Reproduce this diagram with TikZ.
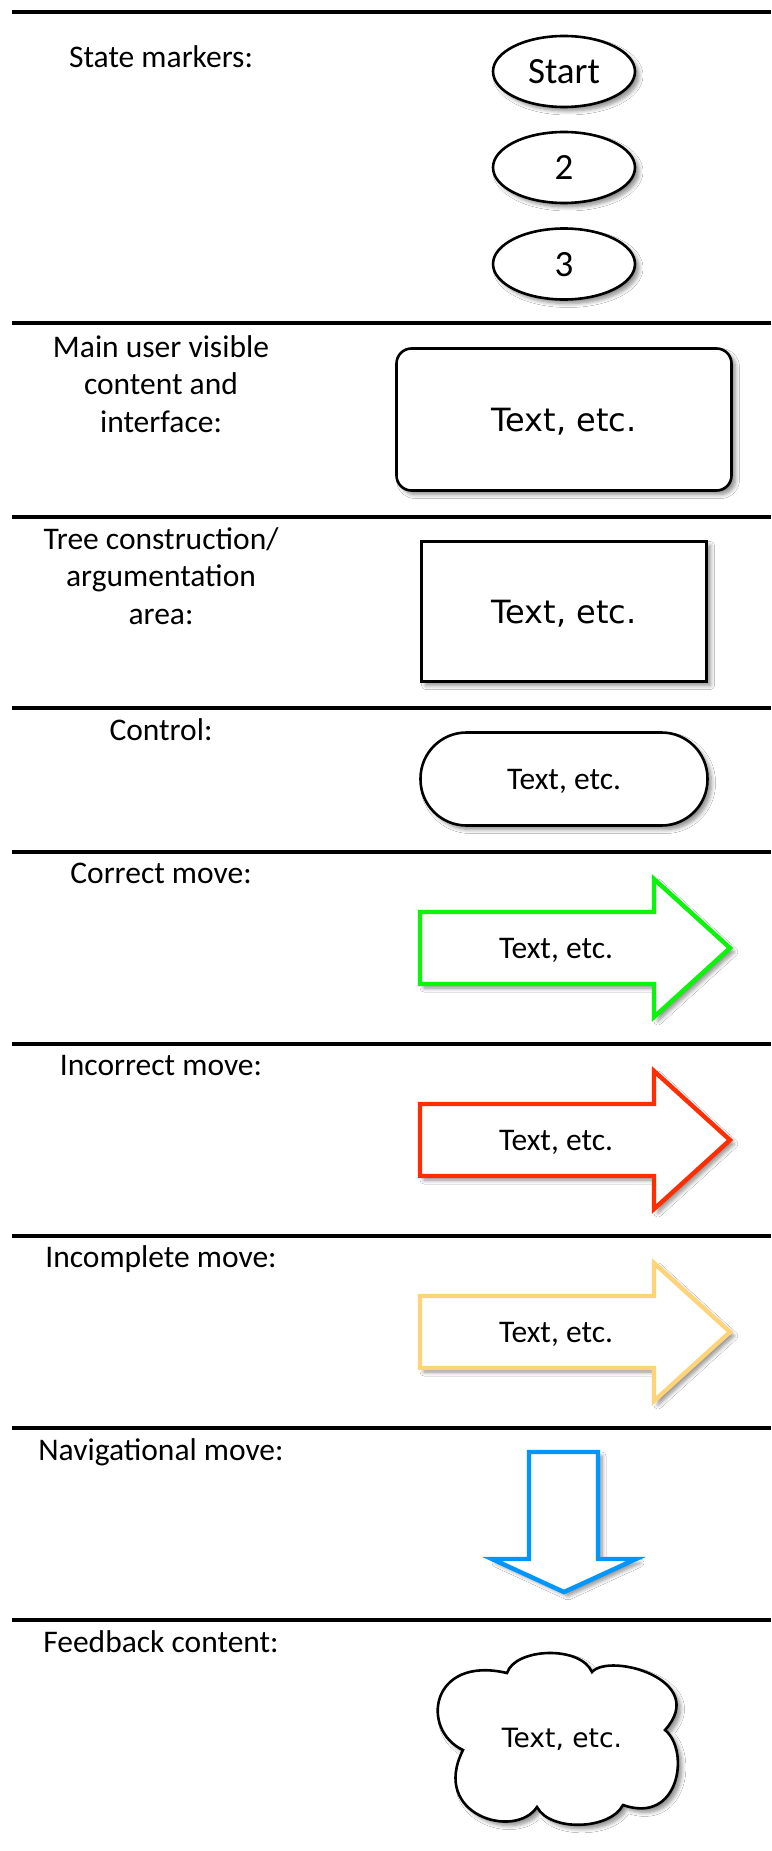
\documentclass[tikz,border=0pt]{standalone}
\usepackage{fontspec}
\setmainfont{Carlito}
\newfontfamily\verafont{DejaVu Sans}
\usetikzlibrary{shapes.geometric,shadows.blur}
\definecolor{movegreen}{RGB}{10,245,10}
\definecolor{movered}{RGB}{255,45,0}
\definecolor{moveorange}{RGB}{255,212,121}
\definecolor{navblue}{RGB}{0,150,255}
\begin{document}
\begin{tikzpicture}[x=1pt,y=-1pt,
  sep/.style={line width=3.2pt},
  lbl/.style={font=\fontsize{31.5}{37.5}\selectfont, align=center, anchor=base, inner sep=0pt},
  shad/.style={blur shadow={shadow xshift=4pt,shadow yshift=-4pt,shadow blur radius=4pt,shadow blur steps=6,shadow opacity=45}},
  statebox/.style={ellipse,draw,line width=2.6pt,fill=white,minimum width=142pt,minimum height=71pt,inner sep=0pt,text depth=0pt,font=\fontsize{37}{42}\selectfont,shad},
  mainbox/.style={rectangle,rounded corners=15pt,draw,line width=2.6pt,fill=white,minimum width=335pt,minimum height=142pt,inner sep=0pt,text depth=0pt,font=\verafont\fontsize{32}{38}\selectfont,shad},
  treebox/.style={rectangle,draw,line width=2.6pt,fill=white,minimum width=285pt,minimum height=140pt,inner sep=0pt,text depth=0pt,font=\verafont\fontsize{32}{38}\selectfont,shad},
  ctrlbox/.style={rectangle,rounded corners=46pt,draw,line width=2.6pt,fill=white,minimum width=287pt,minimum height=93pt,inner sep=0pt,text depth=0pt,font=\fontsize{31.5}{38}\selectfont,shad},
  movearrow/.style={draw=#1,line width=4.4pt,fill=white,line join=miter,shad},
  movetext/.style={inner sep=0pt,text depth=0pt,font=\fontsize{31.5}{38}\selectfont},
  cloudline/.style={draw,line width=2.6pt,fill=white,shad},
  cloudtext/.style={inner sep=0pt,text depth=0pt,font=\verafont\fontsize{26.5}{32}\selectfont}
]
\useasboundingbox (0,0) rectangle (771,1851);
\fill[white] (0,0) rectangle (771,1851);

% separators
\foreach \yy in {12,323,517,708,852,1044,1236,1428,1620}
  \draw[sep] (12,\yy) -- (771,\yy);

% labels (base = baseline of last line)
\node[lbl] (lstate) at (161,68) {State markers:};
\node[lbl] (lmain) at (161,432) {Main user visible\\content and\\interface:};
\node[lbl] (ltree) at (161,624) {Tree construction/\\argumentation\\area:};
\node[lbl] (lctrl) at (161,740) {Control:};
\node[lbl] (lcorrect) at (161,883) {Correct move:};
\node[lbl] (lincorrect) at (161,1075) {Incorrect move:};
\node[lbl] (lincomplete) at (161,1267) {Incomplete move:};
\node[lbl] (lnav) at (161,1460) {Navigational move:};
\node[lbl] (lfeed) at (161,1652) {Feedback content:};

% state markers
\node[statebox] (sstart) at (564,71.5) {Start};
\node[statebox] (stwo) at (564,167.5) {2};
\node[statebox] (sthree) at (564,264) {3};

% main content box
\node[mainbox] (mainc) at (564,419.5) {Text, etc.};
% tree box
\node[treebox] (treec) at (564,611.5) {Text, etc.};
% control
\node[ctrlbox] (ctrl) at (564,779) {Text, etc.};

% correct move
\draw[movearrow=movegreen] (420,912) -- (654,912) -- (654,879) -- (730,948) -- (654,1017) -- (654,984) -- (420,984) -- cycle;
\node[movetext] (tcorrect) at (556,948) {Text, etc.};
% incorrect move
\draw[movearrow=movered] (420,1104) -- (654,1104) -- (654,1071) -- (730,1140) -- (654,1209) -- (654,1176) -- (420,1176) -- cycle;
\node[movetext] (tincorrect) at (556,1140) {Text, etc.};
% incomplete move
\draw[movearrow=moveorange] (420,1296) -- (654,1296) -- (654,1263) -- (730,1332) -- (654,1401) -- (654,1368) -- (420,1368) -- cycle;
\node[movetext] (tincomplete) at (556,1332) {Text, etc.};

% navigational move
\draw[movearrow=navblue] (529,1452) -- (598,1452) -- (598,1559) -- (636,1559) -- (564,1592) -- (492,1559) -- (529,1559) -- cycle;

% feedback cloud
\draw[cloudline] (463,1750)
  .. controls (420,1730) and (430,1655) .. (507,1673)
  .. controls (515,1648) and (580,1645) .. (592,1672)
  .. controls (610,1652) and (710,1680) .. (665,1730)
  .. controls (690,1750) and (680,1825) .. (623,1805)
  .. controls (610,1830) and (550,1832) .. (537,1807)
  .. controls (515,1840) and (430,1815) .. (463,1750) -- cycle;
\node[cloudtext] (tfeed) at (562,1738) {Text, etc.};
\end{tikzpicture}
\end{document}
